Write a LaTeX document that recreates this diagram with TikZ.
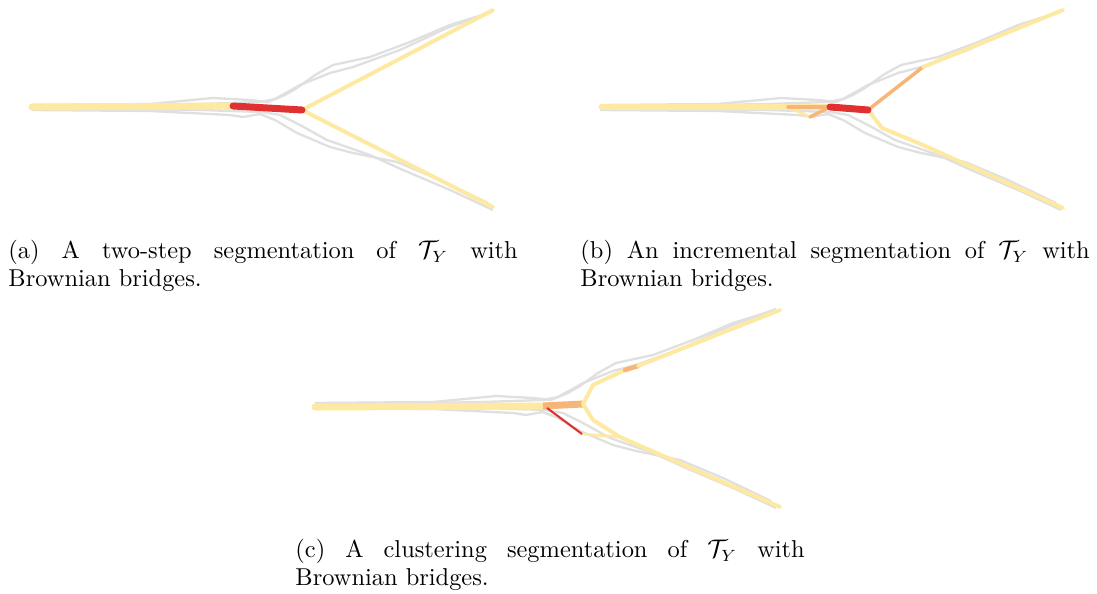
\documentclass[tikz,border=0pt]{standalone}
\usepackage{amsmath}
\usetikzlibrary{positioning}

\definecolor{trajgray}{HTML}{E0E0E0}
\definecolor{segyellow}{HTML}{FDE9A2}
\definecolor{segorange}{HTML}{F7B677}
\definecolor{segred}{HTML}{E0302F}

% the four sample trajectories, in panel pixels
\newcommand{\sampletrajs}{%
  \draw[traj] (32,105) -- (150,104) -- (213,98) -- (250,100) -- (268,102) -- (285,95)
    -- (297,88) -- (315,75) -- (333,65) -- (370,57) -- (410,42) -- (450,25) -- (492,12);
  \draw[traj] (32,107) -- (200,104) -- (260,102) -- (275,99) -- (300,85) -- (330,73)
    -- (353,67) -- (400,50) -- (447,28) -- (493,11);
  \draw[traj] (32,110) -- (150,111) -- (230,115) -- (243,117) -- (260,114) -- (275,120)
    -- (297,133) -- (330,147) -- (353,153) -- (397,162) -- (440,180) -- (488,203);
  \draw[traj] (32,109) -- (200,110) -- (262,112) -- (280,115) -- (300,125) -- (327,140)
    -- (370,155) -- (403,170) -- (450,190) -- (493,210);
}

\begin{document}
\begin{tikzpicture}[
    x=0.43pt, y=-0.43pt,
    font=\fontsize{10.5}{12}\selectfont,
    traj/.style={draw=trajgray, line width=1pt, line join=round},
    seg/.style={draw=segyellow, line width=1.7pt, line cap=round, line join=round},
    segwide/.style={seg, line width=3pt},
    mid/.style={draw=segorange, line width=1.5pt, line cap=round},
    cut/.style={draw=segred, line width=3pt, line cap=round},
    caption/.style={anchor=north west, text width=219pt, align=justify, inner sep=0pt,
      execute at begin node={\hyphenpenalty=10000\exhyphenpenalty=10000\tolerance=10000}}
  ]
    \useasboundingbox (0,0) rectangle (1097,594);

    % (a) two-step
    \begin{scope}
      \sampletrajs
      \coordinate (a0) at (32,107);
      \coordinate (a1) at (233,106);
      \coordinate (a2) at (302,110);
      \coordinate (a3) at (493,10);
      \coordinate (a4) at (493,207);
      \draw[segwide] (a0) -- (a1);
      \draw[seg] (a2) -- (a3);
      \draw[seg] (a2) -- (a4);
      \draw[cut] (a1) -- (a2);
    \end{scope}

    % (b) incremental
    \begin{scope}[shift={(568,0)}]
      \sampletrajs
      \coordinate (b0) at (34,107);
      \coordinate (b1) at (132,107);
      \coordinate (b2) at (262,107);
      \coordinate (b3) at (220,107);
      \coordinate (b4) at (242,117);
      \coordinate (b5) at (300,110);
      \coordinate (b6) at (355,67);
      \coordinate (b7) at (495,10);
      \coordinate (b8) at (314,128);
      \coordinate (b9) at (355,145);
      \coordinate (b10) at (495,208);
      \draw[segwide] (b0) -- (b1);
      \draw[seg, line width=2.2pt] (b1) -- (b2);
      \draw[seg, line width=1.2pt] (b3) -- (b4);
      \draw[mid] (b3) -- (b2);
      \draw[mid] (b4) -- (b2);
      \draw[mid] (b5) -- (b6);
      \draw[seg] (b6) -- (b7);
      \draw[seg] (b5) -- (b8) -- (b9) -- (b10);
      \draw[cut] (b2) -- (b5);
    \end{scope}

    % (c) clustering
    \begin{scope}[shift={(283,298)}]
      \sampletrajs
      \coordinate (c0) at (32,109);
      \coordinate (c1) at (260,108);
      \coordinate (c2) at (300,106);
      \coordinate (c3) at (310,87);
      \coordinate (c4) at (342,72);
      \coordinate (c5) at (355,68);
      \coordinate (c6) at (497,12);
      \coordinate (c7) at (310,122);
      \coordinate (c8) at (337,139);
      \coordinate (c9) at (497,209);
      \coordinate (c10) at (264,110);
      \coordinate (c11) at (299,136);
      \draw[segwide] (c0) -- (c1);
      \draw[mid, line width=3pt, line cap=butt] (c1) -- (c2);
      \draw[seg] (c2) -- (c3) -- (c4);
      \draw[mid, line width=2pt] (c4) -- (c5);
      \draw[seg] (c5) -- (c6);
      \draw[seg] (c2) -- (c7) -- (c8) -- (c9);
      \draw[seg, line width=1.2pt] (c11) -- (c8);
      \draw[draw=segred, line width=0.9pt] (c10) -- (c11);
    \end{scope}

    \node[caption] (capa) at (8,240)
      {(a) A two-step segmentation of $\mathcal{T}_Y$ with Brownian bridges.};
    \node[caption] (capb) at (580,240)
      {(b) An incremental segmentation of $\mathcal{T}_Y$ with Brownian bridges.};
    \node[caption] (capc) at (295,539)
      {(c) A clustering segmentation of $\mathcal{T}_Y$ with Brownian bridges.};
\end{tikzpicture}
\end{document}
